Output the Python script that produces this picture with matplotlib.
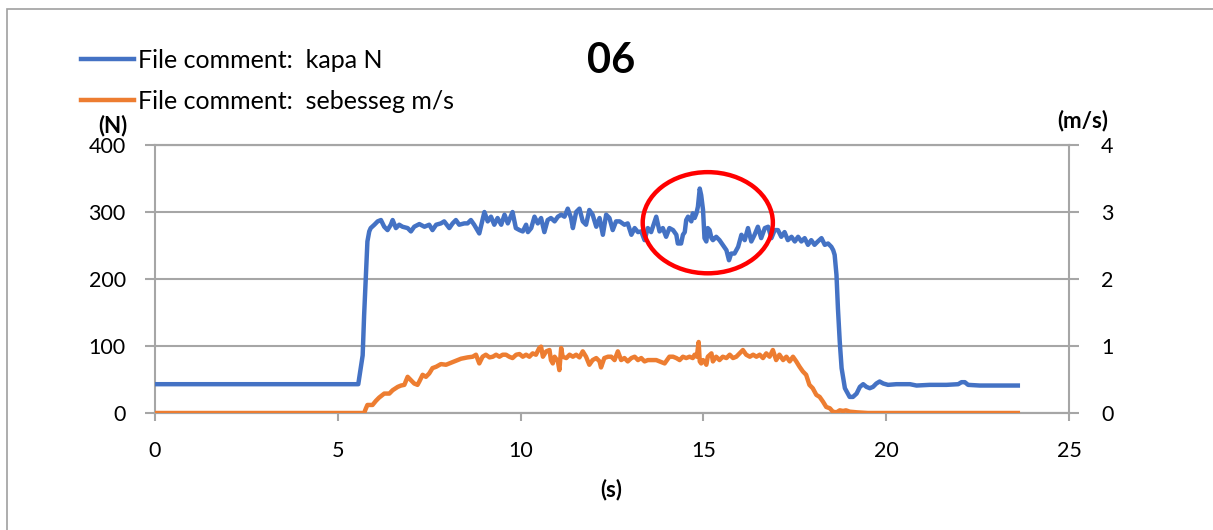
import matplotlib
matplotlib.use("Agg")
import matplotlib.pyplot as plt
from matplotlib.patches import Ellipse, Rectangle

plt.rcParams['font.family'] = ['Lato', 'DejaVu Sans']

# Force (kapa, N) against time (s)
t_kapa = [0, 5.56, 5.68, 5.72, 5.77, 5.81, 5.86, 5.90, 6.00, 6.09, 6.18, 6.27, 6.36, 6.45, 6.50,
          6.59, 6.68, 6.77, 6.91, 7.00, 7.09, 7.23, 7.37, 7.50, 7.59, 7.69, 7.82, 7.91, 8.05, 8.14,
          8.23, 8.32, 8.46, 8.55, 8.64, 8.73, 8.87, 9.01, 9.10, 9.19, 9.28, 9.37, 9.47, 9.56, 9.65,
          9.78, 9.87, 9.97, 10.06, 10.15, 10.20, 10.29, 10.38, 10.47, 10.56, 10.65, 10.74, 10.83,
          10.93, 11.02, 11.11, 11.20, 11.29, 11.38, 11.43, 11.52, 11.61, 11.70, 11.79, 11.88, 11.97,
          12.07, 12.16, 12.25, 12.34, 12.43, 12.52, 12.61, 12.71, 12.84, 12.93, 13.03, 13.12, 13.21,
          13.30, 13.39, 13.48, 13.57, 13.71, 13.80, 13.89, 13.98, 14.07, 14.17, 14.26, 14.30, 14.39,
          14.44, 14.49, 14.53, 14.58, 14.67, 14.71, 14.76, 14.81, 14.85, 14.90, 14.94, 14.99, 15.03,
          15.08, 15.12, 15.17, 15.22, 15.26, 15.35, 15.44, 15.53, 15.63, 15.70, 15.76, 15.85, 15.95,
          16.04, 16.13, 16.22, 16.31, 16.40, 16.49, 16.58, 16.68, 16.77, 16.86, 16.95, 17.04, 17.13,
          17.22, 17.31, 17.41, 17.50, 17.59, 17.68, 17.77, 17.86, 17.95, 18.04, 18.13, 18.23, 18.32,
          18.41, 18.50, 18.55, 18.59, 18.64, 18.68, 18.73, 18.78, 18.87, 19.00, 19.09, 19.19, 19.28,
          19.37, 19.46, 19.55, 19.64, 19.73, 19.82, 19.92, 20.05, 20.28, 20.65, 20.83, 21.19, 21.65,
          21.97, 22.06, 22.15, 22.24, 22.56, 23.11, 23.60]
kapa_n = [43, 43, 86, 146, 206, 256, 271, 276, 281, 286, 288, 278, 273, 281, 288,
          276, 281, 278, 276, 271, 278, 282, 278, 281, 273, 281, 283, 286, 276, 283,
          288, 281, 283, 283, 288, 281, 268, 300, 286, 293, 281, 291, 281, 296, 283,
          300, 276, 273, 271, 281, 270, 276, 293, 283, 291, 270, 288, 291,
          286, 293, 296, 293, 305, 291, 276, 300, 305, 286, 281, 303, 296,
          278, 291, 266, 296, 291, 273, 286, 286, 281, 283, 266, 276, 270,
          271, 258, 276, 270, 293, 271, 276, 263, 276, 273, 266, 253, 253,
          266, 270, 288, 293, 286, 298, 291, 298, 308, 335, 325, 303, 261,
          256, 276, 273, 261, 258, 263, 258, 251, 243, 228, 238, 238, 248,
          266, 258, 276, 256, 266, 278, 261, 276, 278, 261, 273, 273, 263,
          270, 258, 263, 256, 263, 256, 261, 251, 258, 251, 256, 261, 251,
          253, 248, 243, 236, 206, 156, 106, 67, 37, 24, 24, 29, 39,
          43, 39, 37, 39, 44, 47, 44, 42, 43, 43, 41, 42, 42,
          43, 46, 46, 42, 41, 41, 41]

# Speed (sebesseg, m/s) against time (s)
t_seb = [0, 5.72, 5.77, 5.81, 5.95, 6.04, 6.13, 6.27, 6.41, 6.50, 6.64, 6.73, 6.82, 6.91, 7.00,
         7.09, 7.18, 7.23, 7.32, 7.41, 7.50, 7.59, 7.69, 7.82, 7.96, 8.05, 8.19, 8.28, 8.37, 8.46,
         8.55, 8.69, 8.78, 8.87, 8.96, 9.05, 9.15, 9.24, 9.33, 9.42, 9.51, 9.60, 9.69, 9.78, 9.88,
         9.97, 10.06, 10.15, 10.24, 10.33, 10.42, 10.51, 10.56, 10.61, 10.70, 10.79, 10.83, 10.88,
         10.93, 11.02, 11.06, 11.11, 11.15, 11.25, 11.34, 11.43, 11.52, 11.61, 11.70, 11.79, 11.88,
         11.97, 12.07, 12.16, 12.20, 12.29, 12.39, 12.48, 12.57, 12.66, 12.75, 12.84, 12.93, 13.03,
         13.12, 13.21, 13.30, 13.39, 13.48, 13.57, 13.71, 13.80, 13.94, 14.07, 14.17, 14.26, 14.35,
         14.44, 14.53, 14.62, 14.71, 14.76, 14.82, 14.87, 14.90, 14.94, 14.99, 15.03, 15.08, 15.12,
         15.22, 15.26, 15.35, 15.44, 15.53, 15.63, 15.72, 15.81, 15.90, 15.99, 16.08, 16.17, 16.27,
         16.36, 16.45, 16.54, 16.63, 16.72, 16.81, 16.90, 16.99, 17.08, 17.18, 17.27, 17.36, 17.45,
         17.54, 17.63, 17.72, 17.81, 17.90, 17.99, 18.09, 18.18, 18.27, 18.36, 18.46, 18.54, 18.64,
         18.73, 18.82, 18.90, 19.00, 19.20, 19.50, 23.60]
seb_ms = [0, 0, 0.07, 0.12, 0.12, 0.18, 0.23, 0.29, 0.29, 0.34, 0.39, 0.41, 0.42, 0.54, 0.49,
          0.44, 0.42, 0.47, 0.57, 0.54, 0.59, 0.67, 0.69, 0.73, 0.72, 0.74, 0.77, 0.79, 0.81, 0.82,
          0.83, 0.84, 0.87, 0.74, 0.84, 0.87, 0.83, 0.84, 0.87, 0.84, 0.87, 0.87, 0.84, 0.82, 0.87,
          0.88, 0.84, 0.87, 0.84, 0.89, 0.87, 0.97, 0.99, 0.84, 0.92, 0.94, 0.79, 0.74,
          0.84, 0.77, 0.64, 0.97, 0.84, 0.82, 0.87, 0.84, 0.87, 0.83, 0.92, 0.84, 0.72,
          0.79, 0.82, 0.77, 0.68, 0.82, 0.84, 0.84, 0.79, 0.92, 0.79, 0.82, 0.77, 0.82,
          0.84, 0.79, 0.82, 0.77, 0.79, 0.79, 0.79, 0.77, 0.74, 0.84, 0.84, 0.82, 0.79,
          0.84, 0.82, 0.84, 0.82, 0.87, 0.84, 1.06, 0.77, 0.74, 0.79, 0.77, 0.72, 0.84,
          0.89, 0.77, 0.84, 0.79, 0.84, 0.82, 0.87, 0.82, 0.84, 0.89, 0.94, 0.87, 0.84,
          0.87, 0.84, 0.87, 0.82, 0.89, 0.84, 0.94, 0.79, 0.87, 0.79, 0.84, 0.77, 0.84,
          0.77, 0.69, 0.62, 0.57, 0.42, 0.37, 0.27, 0.24, 0.17, 0.09, 0.07, 0.02, 0.01,
          0.04, 0.03, 0.04, 0.02, 0.01, 0, 0]

title = "06"
label_kapa = "File comment:  kapa N"
label_seb = "File comment:  sebesseg m/s"
x_ticks = [0, 5, 10, 15, 20, 25]
left_ticks = [0, 100, 200, 300, 400]
right_ticks = [0, 1, 2, 3, 4]

# highlighted region (ellipse), in s / N
circle_center = (15.12, 284)
circle_size = (3.56, 151)

W, H = 1213, 530
blue = "#4472C4"
orange = "#ED7D31"
grid_c = "#A6A6A6"

fig = plt.figure(figsize=(W / 100, H / 100), dpi=100)
fig.patches.append(Rectangle((7 / W, -0.1), 1.2, 1 - 9 / H + 0.1, transform=fig.transFigure,
                             fill=False, edgecolor="#A0A0A0", linewidth=1.2))

ax = fig.add_axes([155 / W, 1 - 413 / H, (1069 - 155) / W, (413 - 145) / H])
ax2 = ax.twinx()

ax.plot(t_kapa, kapa_n, color=blue, lw=3.2, solid_joinstyle="round", label=label_kapa, zorder=3)
ax2.plot(t_seb, seb_ms, color=orange, lw=3.2, solid_joinstyle="round", label=label_seb, zorder=3)

ax.set_xlim(0, 25)
ax.set_ylim(0, 400)
ax2.set_ylim(0, 4)
ax.set_xticks(x_ticks)
ax.set_yticks(left_ticks)
ax2.set_yticks(right_ticks)

ax.yaxis.grid(True, color=grid_c, lw=1.5)
ax.set_axisbelow(True)
for a in (ax, ax2):
    for s in a.spines.values():
        s.set_color(grid_c)
        s.set_linewidth(1.5)
ax.spines["right"].set_visible(False)
ax2.spines["left"].set_visible(False)

ax.tick_params(axis="x", direction="out", length=6, width=1.5, color=grid_c, pad=14, labelsize=15.5)
ax.tick_params(axis="y", direction="out", length=7, width=1.5, color=grid_c, pad=14, labelsize=15.5)
ax2.tick_params(axis="y", direction="out", length=7, width=1.5, color=grid_c, pad=16, labelsize=15.5)

ax2.add_patch(Ellipse(circle_center, circle_size[0], circle_size[1], transform=ax.transData,
                      fill=False, edgecolor="#FF0000", lw=3.2, zorder=5, clip_on=False))

fig.text(611 / W, 1 - 61 / H, title, fontsize=30, fontweight="bold", ha="center", va="center")
fig.text(113 / W, 1 - 126 / H, "(N)", fontsize=16, fontweight="bold", ha="center", va="center")
fig.text(1083 / W, 1 - 121 / H, "(m/s)", fontsize=16, fontweight="bold", ha="center", va="center")
fig.text(611 / W, 1 - 490 / H, "(s)", fontsize=16, fontweight="bold", ha="center", va="center")

h1, l1 = ax.get_legend_handles_labels()
h2, l2 = ax2.get_legend_handles_labels()
fig.legend(h1 + h2, l1 + l2, loc="upper left", bbox_to_anchor=(81 / W, 1 - 49 / H),
           frameon=False, fontsize=18, handlelength=2.1, handletextpad=0.2,
           labelspacing=0.72, borderaxespad=0, borderpad=0)

fig.savefig("out.png", dpi=100)
